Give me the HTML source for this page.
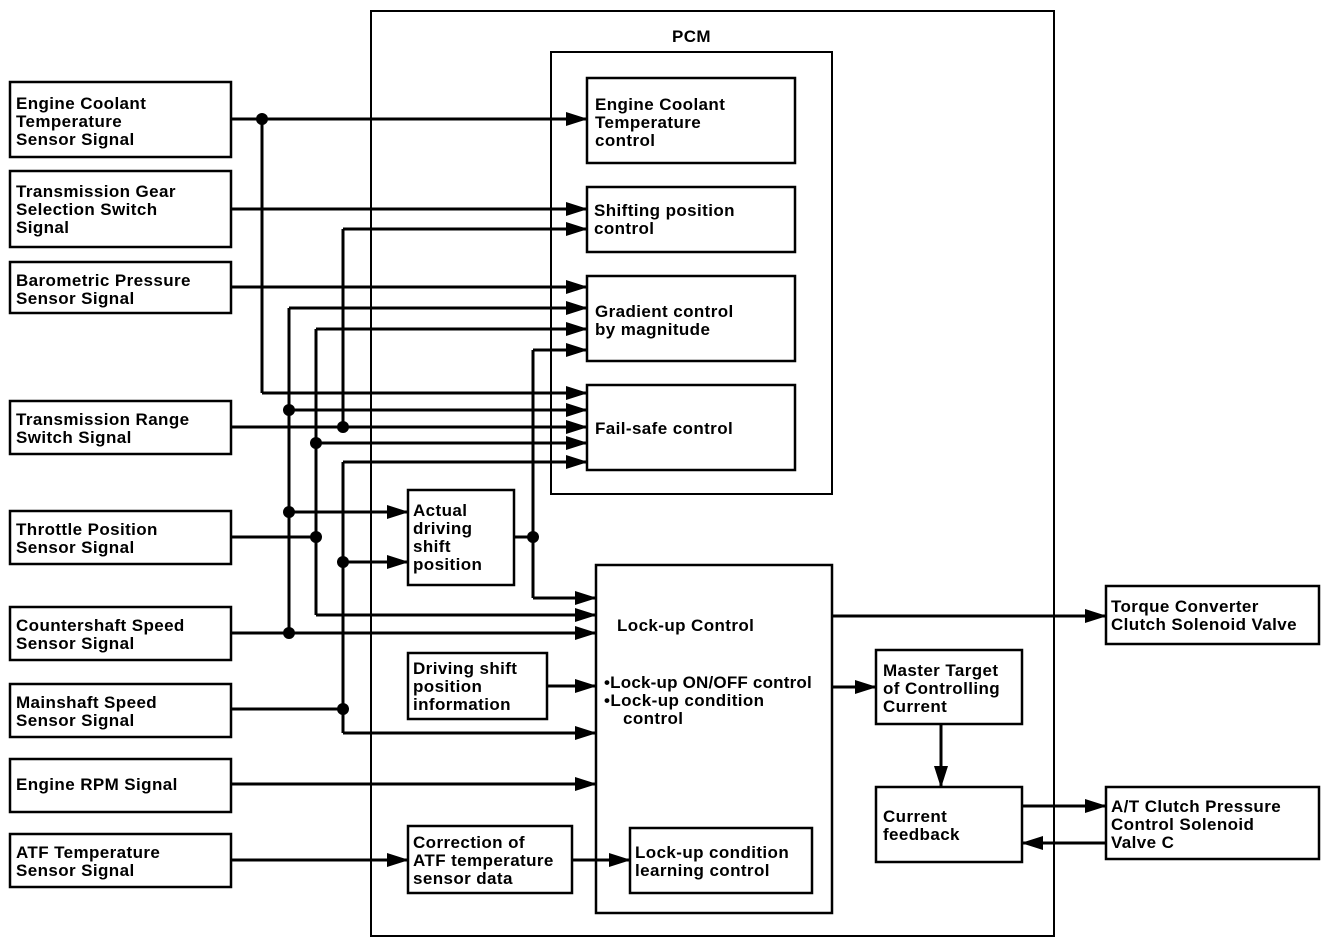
<!DOCTYPE html>
<html><head><meta charset="utf-8"><style>
html,body{margin:0;padding:0;background:#fff;}
svg{display:block;}
text{font-family:"Liberation Sans",Arial,sans-serif;font-weight:bold;font-size:17px;letter-spacing:0.4px;fill:#000;}
</style></head><body>
<svg width="1344" height="944" viewBox="0 0 1344 944" xmlns="http://www.w3.org/2000/svg">
<defs>
<marker id="a" markerUnits="userSpaceOnUse" markerWidth="22" markerHeight="14" refX="21" refY="7" orient="auto">
<path d="M0,0 L22,7 L0,14 Z" fill="#000"/></marker>
</defs>
<g fill="none" stroke="#000" stroke-width="2.5">
<rect x="10" y="82" width="221" height="75"/>
<rect x="10" y="171" width="221" height="76"/>
<rect x="10" y="262" width="221" height="51"/>
<rect x="10" y="401" width="221" height="53"/>
<rect x="10" y="511" width="221" height="53"/>
<rect x="10" y="607" width="221" height="53"/>
<rect x="10" y="684" width="221" height="53"/>
<rect x="10" y="759" width="221" height="53"/>
<rect x="10" y="834" width="221" height="53"/>
<rect x="371" y="11" width="683" height="925" stroke-width="2"/>
<rect x="551" y="52" width="281" height="442" stroke-width="2"/>
<rect x="587" y="78" width="208" height="85"/>
<rect x="587" y="187" width="208" height="65"/>
<rect x="587" y="276" width="208" height="85"/>
<rect x="587" y="385" width="208" height="85"/>
<rect x="408" y="490" width="106" height="95"/>
<rect x="596" y="565" width="236" height="348"/>
<rect x="408" y="653" width="139" height="66"/>
<rect x="408" y="826" width="164" height="67"/>
<rect x="630" y="828" width="182" height="65"/>
<rect x="876" y="650" width="146" height="74"/>
<rect x="876" y="787" width="146" height="75"/>
<rect x="1106" y="586" width="213" height="58"/>
<rect x="1106" y="787" width="213" height="72"/>
</g>
<g fill="none" stroke="#000" stroke-width="3">
<path d="M262,119 V393"/>
<path d="M289,308 V633"/>
<path d="M316,329 V615"/>
<path d="M343,229 V427"/>
<path d="M343,462 V733"/>
<path d="M533,350 V598"/>
<path d="M230,537 H316"/>
<path d="M230,709 H343"/>
<path d="M514,537 H533"/>
</g>
<g fill="none" stroke="#000" stroke-width="3" marker-end="url(#a)">
<path d="M231,119 H587"/>
<path d="M231,209 H587"/>
<path d="M343,229 H587"/>
<path d="M231,287 H587"/>
<path d="M289,308 H587"/>
<path d="M316,329 H587"/>
<path d="M533,350 H587"/>
<path d="M262,393 H587"/>
<path d="M289,410 H587"/>
<path d="M231,427 H587"/>
<path d="M316,443 H587"/>
<path d="M343,462 H587"/>
<path d="M289,512 H408"/>
<path d="M343,562 H408"/>
<path d="M533,598 H596"/>
<path d="M316,615 H596"/>
<path d="M231,633 H596"/>
<path d="M547,686 H596"/>
<path d="M343,733 H596"/>
<path d="M231,784 H596"/>
<path d="M231,860 H408"/>
<path d="M572,860 H630"/>
<path d="M832,616 H1106"/>
<path d="M832,687 H876"/>
<path d="M941,724 V787"/>
<path d="M1022,806 H1106"/>
<path d="M1106,843 H1022"/>
</g>
<g fill="#000">
<circle cx="262" cy="119" r="6"/>
<circle cx="289" cy="410" r="6"/>
<circle cx="343" cy="427" r="6"/>
<circle cx="316" cy="443" r="6"/>
<circle cx="289" cy="512" r="6"/>
<circle cx="316" cy="537" r="6"/>
<circle cx="343" cy="562" r="6"/>
<circle cx="533" cy="537" r="6"/>
<circle cx="289" cy="633" r="6"/>
<circle cx="343" cy="709" r="6"/>
</g>
<text x="16" y="109">Engine Coolant</text>
<text x="16" y="127">Temperature</text>
<text x="16" y="145">Sensor Signal</text>
<text x="16" y="197">Transmission Gear</text>
<text x="16" y="215">Selection Switch</text>
<text x="16" y="233">Signal</text>
<text x="16" y="286">Barometric Pressure</text>
<text x="16" y="304">Sensor Signal</text>
<text x="16" y="425">Transmission Range</text>
<text x="16" y="443">Switch Signal</text>
<text x="16" y="535">Throttle Position</text>
<text x="16" y="553">Sensor Signal</text>
<text x="16" y="631">Countershaft Speed</text>
<text x="16" y="649">Sensor Signal</text>
<text x="16" y="708">Mainshaft Speed</text>
<text x="16" y="726">Sensor Signal</text>
<text x="16" y="790">Engine RPM Signal</text>
<text x="16" y="858">ATF Temperature</text>
<text x="16" y="876">Sensor Signal</text>
<text x="672" y="42">PCM</text>
<text x="595" y="110">Engine Coolant</text>
<text x="595" y="128">Temperature</text>
<text x="595" y="146">control</text>
<text x="594" y="216">Shifting position</text>
<text x="594" y="234">control</text>
<text x="595" y="317">Gradient control</text>
<text x="595" y="335">by magnitude</text>
<text x="595" y="434">Fail-safe control</text>
<text x="413" y="516">Actual</text>
<text x="413" y="534">driving</text>
<text x="413" y="552">shift</text>
<text x="413" y="570">position</text>
<text x="617" y="631">Lock-up Control</text>
<text x="604" y="688" style="letter-spacing:0.2px">•Lock-up ON/OFF control</text>
<text x="604" y="706">•Lock-up condition</text>
<text x="623" y="724">control</text>
<text x="413" y="674">Driving shift</text>
<text x="413" y="692">position</text>
<text x="413" y="710">information</text>
<text x="413" y="848">Correction of</text>
<text x="413" y="866">ATF temperature</text>
<text x="413" y="884">sensor data</text>
<text x="635" y="858">Lock-up condition</text>
<text x="635" y="876">learning control</text>
<text x="883" y="676">Master Target</text>
<text x="883" y="694">of Controlling</text>
<text x="883" y="712">Current</text>
<text x="883" y="822">Current</text>
<text x="883" y="840">feedback</text>
<text x="1111" y="612">Torque Converter</text>
<text x="1111" y="630">Clutch Solenoid Valve</text>
<text x="1111" y="812">A/T Clutch Pressure</text>
<text x="1111" y="830">Control Solenoid</text>
<text x="1111" y="848">Valve C</text>
</svg>
</body></html>
